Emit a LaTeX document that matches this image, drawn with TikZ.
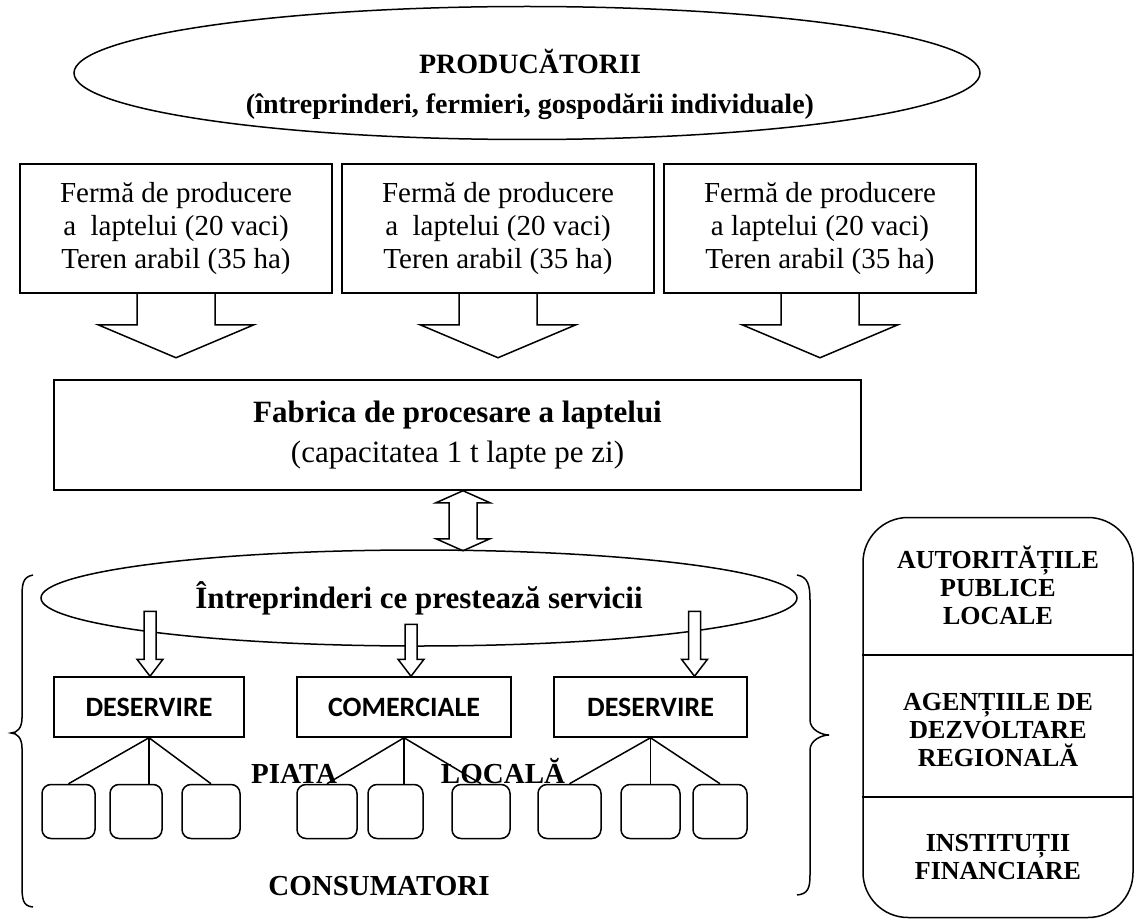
\documentclass[tikz,border=0pt]{standalone}
\usepackage{fontspec}
\setmainfont{Liberation Serif}
\newfontfamily\calibrifont{Carlito}
\usetikzlibrary{calc,shapes.geometric}

\tikzset{
  oval/.style={draw, ellipse, inner sep=0pt, align=center},
  farmbox/.style={draw, minimum width=312pt, minimum height=129pt, inner sep=0pt, align=center, font=\fontsize{29}{33}\selectfont},
  servbox/.style={draw, minimum height=60pt, inner sep=0pt, font=\calibrifont\bfseries\fontsize{28}{30}\selectfont},
  consbox/.style={draw, rounded corners=9pt, minimum height=54pt, inner sep=0pt},
  titletext/.style={font=\bfseries\fontsize{29}{32}\selectfont},
  insttext/.style={align=center, font=\bfseries\fontsize{26}{28}\selectfont},
}

\begin{document}
\begin{tikzpicture}[x=1pt, y=-1pt, line width=1.5pt]
\useasboundingbox (0,0) rectangle (1135,920);

% Producers
\node[oval, minimum width=906pt, minimum height=133pt] (prod) at (527,73) {};
\node[align=center, font=\bfseries\fontsize{28}{40}\selectfont] (prodtext) at (530,84) {PRODUCĂTORII\\(întreprinderi, fermieri, gospodării individuale)};

% Farms
\node[farmbox] (farm1) at (176,228.5) {Fermă de producere\\a\ \ laptelui (20 vaci)\\Teren arabil (35 ha)};
\node[farmbox] (farm2) at (498,228.5) {Fermă de producere\\a\ \ laptelui (20 vaci)\\Teren arabil (35 ha)};
\node[farmbox] (farm3) at (820,228.5) {Fermă de producere\\a laptelui (20 vaci)\\Teren arabil (35 ha)};

% Block arrows down to the plant
\foreach \b in {farm1,farm2,farm3}
  \draw ($(\b.south)+(-39,0)$) -- ++(0,31) -- ++(-39,0) -- ($(\b.south)+(0,64)$) -- ($(\b.south)+(78,31)$) -- ++(-39,0) -- ++(0,-31);

% Processing plant
\node[draw, minimum width=807pt, minimum height=110pt, inner sep=0pt, align=center, font=\fontsize{31}{40}\selectfont] (plant) at (457.5,435) {\textbf{Fabrica de procesare a laptelui}\\(capacitatea 1 t lapte pe zi)};

% Double arrow plant <-> services
\coordinate (dtop) at ($(plant.south)+(5.5,0)$);
\draw (dtop) -- ++(27,12) -- ++(-13,0) -- ++(0,36) -- ++(13,0) -- ++(-27,12) -- ++(-27,-12) -- ++(13,0) -- ++(0,-36) -- ++(-13,0) -- cycle;

% Services
\node[oval, minimum width=756pt, minimum height=96pt, font=\bfseries\fontsize{31}{34}\selectfont] (serv) at (419,598) {Întreprinderi ce prestează servicii};

% Braces
\draw (33,575) .. controls (22,577) and (22,585) .. (22,600) -- (22,718) .. controls (22,728) and (17,733) .. (11,733) .. controls (17,733) and (22,738) .. (22,748) -- (22,885) .. controls (22,900) and (23,906) .. (33,907);
\draw (797,575) .. controls (808,577) and (810,585) .. (810,600) -- (810,720) .. controls (810,730) and (822,735) .. (829,735) .. controls (822,735) and (810,740) .. (810,750) -- (810,875) .. controls (810,888) and (808,894) .. (797,895);

% Service types
\node[servbox, minimum width=190pt] (srv1) at (149,707) {DESERVIRE};
\node[servbox, minimum width=214pt] (srv2) at (404,707) {COMERCIALE};
\node[servbox, minimum width=193pt] (srv3) at (650.5,707) {DESERVIRE};

% Small arrows from services
\foreach \s/\dx/\len in {srv1/1/48,srv2/7/35,srv3/44/48}
  \draw[fill=white] ($(\s.north)+(\dx,0)$) -- ++(-13,-17) -- ++(7,0) -- ++(0,-\len) -- ++(12,0) -- ++(0,\len) -- ++(7,0) -- cycle;

% Consumers
\foreach \i/\x/\w in {1/68.5/53,2/136/52,3/211/58,4/327/60,5/395.5/55,6/481/58,7/569.5/63,8/650.5/59,9/720/54}
  \node[consbox, minimum width=\w pt] (cons\i) at (\x,811.5) {};

\draw (srv1.south) -- (cons1.north);
\draw (srv1.south) -- (srv1.south |- cons2.north);
\draw (srv1.south) -- (cons3.north);
\draw (srv2.south) -- (cons4.north);
\draw (srv2.south) -- (srv2.south |- cons5.north);
\draw (srv2.south) -- (cons6.north);
\draw (srv3.south) -- (cons7.north);
\draw (srv3.south) -- (srv3.south |- cons8.north);
\draw (srv3.south) -- (cons9.north);

\node[titletext, anchor=base] (piata) at (294,783) {PIATA};
\node[titletext, anchor=base] (locala) at (503,783) {LOCALĂ};
\node[titletext, anchor=base] (consum) at (379,895) {CONSUMATORI};

% Institutions
\node[draw, rounded corners=45pt, minimum width=270pt, minimum height=400pt, inner sep=0pt] (inst) at (998,717.5) {};
\draw ($(inst.north west)+(0,138)$) -- ($(inst.north east)+(0,138)$);
\draw ($(inst.north west)+(0,280)$) -- ($(inst.north east)+(0,280)$);
\node[insttext] (apl) at (998,585) {AUTORITĂȚILE\\PUBLICE\\LOCALE};
\node[insttext] (adr) at (998,730) {AGENȚIILE DE\\DEZVOLTARE\\REGIONALĂ};
\node[insttext] (ifin) at (998,857) {INSTITUȚII\\FINANCIARE};

\end{tikzpicture}
\end{document}
